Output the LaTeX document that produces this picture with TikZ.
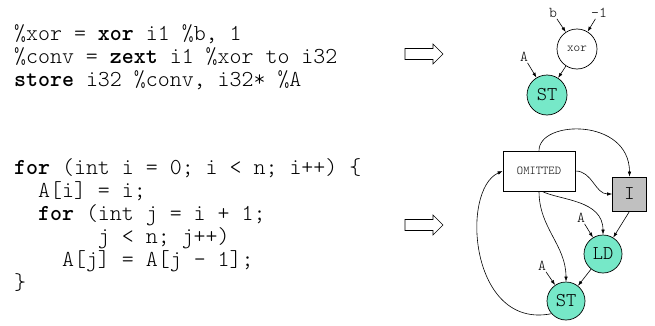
\documentclass[tikz,border=0pt]{standalone}
\usepackage{fontspec}
\setmonofont{Latin Modern Mono Light}
\usetikzlibrary{arrows.meta}

\definecolor{memgreen}{RGB}{118,232,200}
\definecolor{boxgray}{RGB}{192,192,192}

\tikzset{
  op/.style={circle, draw, line width=0.7pt, minimum size=40pt, inner sep=0pt,
    font=\ttfamily\fontsize{19.5}{19.5}\selectfont},
  mem/.style={op, fill=memgreen},
  lbl/.style={font=\ttfamily\fontsize{15}{15}\selectfont, inner sep=1pt},
  edge/.style={-{Latex[length=5pt,width=3.5pt]}, line width=0.6pt},
  code/.style={font=\ttfamily\fontsize{22.8}{23}\selectfont, align=left,
    anchor=west, inner sep=0pt},
}

\begin{document}
\begin{tikzpicture}[x=1pt,y=1pt]
\useasboundingbox (0,0) rectangle (655,325);

% source text
\node[code] (ir) at (14,268) {\%xor = \textbf{xor} i1 \%b, 1\\
\%conv = \textbf{zext} i1 \%xor to i32\\
\textbf{store} i32 \%conv, i32* \%A};

\node[code] (loop) at (14,100) {\textbf{for} (int i = 0; i < n; i++) \{\\
\hphantom{xx}A[i] = i;\\
\hphantom{xx}\textbf{for} (int j = i + 1;\\
\hphantom{xxxxxxx}j < n; j++)\\
\hphantom{xxxx}A[j] = A[j - 1];\\
\}};

% hollow arrows
\foreach \y in {271,100}
  \draw[line width=0.6pt] (405,\y-5.5) -- (433,\y-5.5) -- (433,\y-10) -- (443,\y)
    -- (433,\y+10) -- (433,\y+5.5) -- (405,\y+5.5) -- cycle;

% top graph
\node[op, font=\ttfamily\fontsize{12.6}{12.6}\selectfont] (xor) at (577,276) {xor};
\node[mem] (st) at (547,230) {ST};
\node[lbl] (b) at (553,312) {b};
\node[lbl] (neg) at (599,312) {-1};
\node[lbl] (a) at (524,268) {A};

\draw[edge] (b) -- (xor);
\draw[edge] (neg) -- (xor);
\draw[edge] (a) -- (st);
\draw[edge] (xor) -- (st);

% bottom graph
\node[draw, fill=white, line width=0.7pt, minimum width=72pt, minimum height=40pt,
  font=\ttfamily\fontsize{12}{12}\selectfont] (omit) at (539,154) {OMITTED};
\node[draw, fill=boxgray, line width=0.7pt, minimum size=34pt, inner sep=0pt,
  font=\ttfamily\fontsize{19.5}{19.5}\selectfont] (init) at (629.5,131) {I};
\node[mem, minimum size=38pt] (ld) at (603,71) {LD};
\node[mem, minimum size=38pt] (st2) at (566,24) {ST};
\node[lbl] (a2) at (581,107) {A};
\node[lbl] (a3) at (542,59) {A};

\draw[edge] (omit.north) .. controls +(0,31) and +(0,59) .. (init.north);
\draw[edge] (omit.east) to[out=0,in=180] (init.west);
\draw[edge] (omit.south) to[out=-90,in=90] (st2.north);
\draw[edge] ([xshift=3pt]omit.south) .. controls +(18,-9) and +(0,35) .. (ld.north);
\draw[edge] (init.south) -- (ld);
\draw[edge] (ld) -- (st2);
\draw[edge] (a2) -- (ld);
\draw[edge] (a3) -- (st2);
\draw[edge] (st2.221) .. controls (470,-5) and (460,135) .. (omit.west);

\end{tikzpicture}
\end{document}
